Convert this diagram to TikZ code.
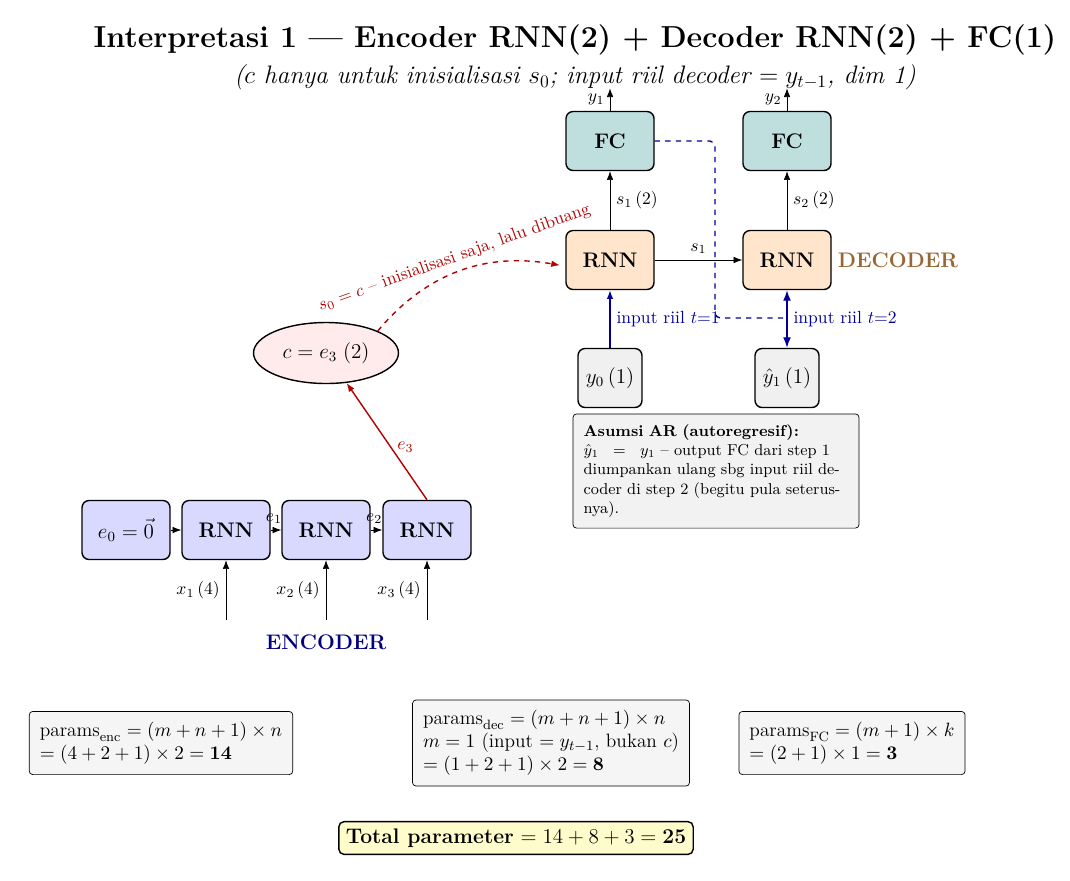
\documentclass[tikz,border=0pt]{standalone}
\usepackage{amsmath}
\usetikzlibrary{positioning}
\usetikzlibrary{arrows.meta}
\usetikzlibrary{shapes.geometric}

\tikzset{
  box/.style={draw, rounded corners=4pt, thick, minimum width=1.76cm, minimum height=1.18cm, font=\large\bfseries},
  encbox/.style={box, fill=blue!15},
  decbox/.style={box, fill=orange!20},
  fcbox/.style={box, fill=teal!25},
  inbox/.style={box, fill=gray!12, minimum width=1.28cm, font=\large},
  parbox/.style={draw, rounded corners=2pt, fill=gray!8, align=left, font=\fontsize{11}{13}\selectfont, inner sep=6pt},
  arr/.style={-{Latex[length=5pt]}},
  lbl/.style={font=\normalsize},
}

\begin{document}
\begin{tikzpicture}[x=0.02cm, y=-0.02cm]
  \useasboundingbox (0,0) rectangle (1070,880);

  % title
  \node (title) at (575,40) {\LARGE\bfseries Interpretasi 1 --- Encoder RNN(2) + Decoder RNN(2) + FC(1)};
  \node (subtitle) at (575,77) {\Large\itshape ($c$ hanya untuk inisialisasi $s_0$; input riil decoder $= y_{t-1}$, dim 1)};

  % encoder
  \node[encbox, font=\large] (e0) at (126,530) {$e_0=\vec{0}$};
  \node[encbox] (enc1) at (226,530) {RNN};
  \node[encbox] (enc2) at (326,530) {RNN};
  \node[encbox] (enc3) at (427,530) {RNN};
  \draw[arr] (e0) -- (enc1);
  \draw[arr] (enc1) -- node[above, lbl, pos=0.3] {$e_1$} (enc2);
  \draw[arr] (enc2) -- node[above, lbl, pos=0.3] {$e_2$} (enc3);
  \foreach \n/\i in {enc1/1, enc2/2, enc3/3} {
    \coordinate (x\i) at ([yshift=-1.2cm]\n.south);
    \draw[arr] (x\i) -- node[left, lbl] {$x_\i\,(4)$} (\n.south);
  }
  \node[font=\large\bfseries, text=blue!50!black] (enclbl) at (326,642) {ENCODER};

  % context
  \node[ellipse, draw, thick, fill=red!8, minimum width=2.9cm, minimum height=1.22cm, font=\large] (c) at (326,353) {$c=e_3\;(2)$};
  \draw[arr, red!70!black, thick] (enc3.north) -- node[right, lbl, pos=0.45] {$e_3$} (c);

  % decoder
  \node[decbox] (dec1) at (610,260) {RNN};
  \node[decbox] (dec2) at (787,260) {RNN};
  \node[fcbox] (fc1) at (610,141) {FC};
  \node[fcbox] (fc2) at (787,141) {FC};
  \node[inbox] (y0) at (610,378) {$y_0\,(1)$};
  \node[inbox] (yh1) at (787,378) {$\hat{y}_1\,(1)$};
  \node[font=\large\bfseries, text=brown!80!black, right=0pt of dec2] (declbl) {DECODER};

  \draw[arr] (dec1) -- node[above, lbl] {$s_1$} (dec2);
  \draw[arr] (dec1) -- node[right, lbl] {$s_1\,(2)$} (fc1);
  \draw[arr] (dec2) -- node[right, lbl] {$s_2\,(2)$} (fc2);
  \draw[arr] (fc1.north) -- ([yshift=0.45cm]fc1.north) node[left, lbl, inner sep=1pt, pos=0.5, xshift=-2pt] {$y_1$};
  \draw[arr] (fc2.north) -- ([yshift=0.45cm]fc2.north) node[left, lbl, inner sep=1pt, pos=0.5, xshift=-2pt] {$y_2$};
  \draw[arr, blue!60!black, thick] (y0) -- node[right, lbl] {input riil $t{=}1$} (dec1);
  \draw[{Latex[length=6pt]}-{Latex[length=6pt]}, blue!60!black, thick] (yh1) -- node[right, lbl] {input riil $t{=}2$} (dec2);
  \coordinate (fb) at (715,318);
  \draw[dashed, thick, blue!60!black, rounded corners=3pt] (fc1.east) -| (fb) -- (787,318);

  % s0 init
  \draw[arr, dashed, thick, red!70!black] (c.north east) to[out=50, in=170]
    node[above, sloped, lbl, pos=0.5] {$s_0=c$ -- inisialisasi saja, lalu dibuang} ([xshift=-3pt,yshift=-3pt]dec1.west);

  % AR note
  \node[parbox, font=\small, text width=5.3cm, fill=gray!10] (note) at (716,471)
    {\textbf{Asumsi AR (autoregresif):}\\ $\hat{y}_1 \;=\; y_1$ -- output FC dari step 1 diumpankan ulang sbg input riil decoder di step 2 (begitu pula seterusnya).};

  % parameters
  \node[parbox] (penc) at (161,743) {$\text{params}_{\text{enc}}=(m+n+1)\times n$\\ $=(4+2+1)\times 2=\mathbf{14}$};
  \node[parbox] (pdec) at (551,743) {$\text{params}_{\text{dec}}=(m+n+1)\times n$\\ $m=1$ (input $=y_{t-1}$, bukan $c$)\\ $=(1+2+1)\times 2=\mathbf{8}$};
  \node[parbox] (pfc) at (852,743) {$\text{params}_{\text{FC}}=(m+1)\times k$\\ $=(2+1)\times 1=\mathbf{3}$};
  \node[draw, thick, rounded corners=3pt, fill=yellow!20, inner sep=4pt, font=\large] (total) at (516,838)
    {\textbf{Total parameter} $=14+8+3=\mathbf{25}$};
\end{tikzpicture}
\end{document}
